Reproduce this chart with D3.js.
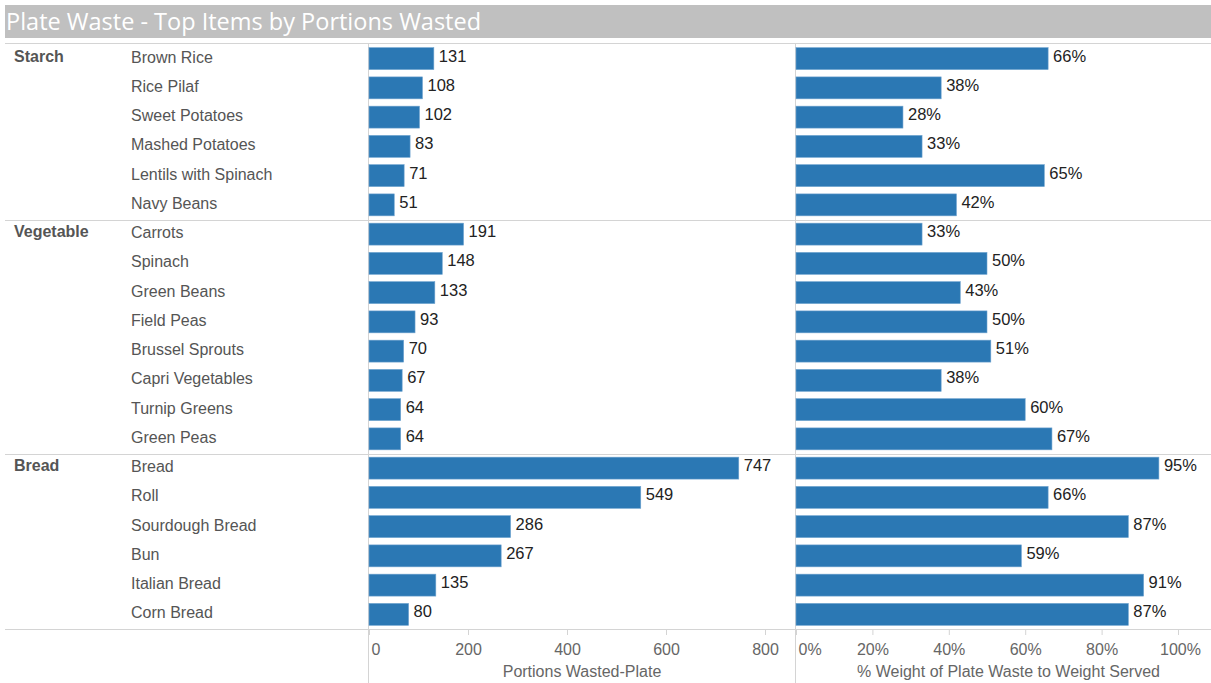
<!DOCTYPE html>
<html>
<head>
<meta charset="utf-8">
<script src="https://cdn.jsdelivr.net/npm/d3@7"></script>
<style>
  body { margin: 0; background: #fff; }
  svg text { font-family: "Liberation Sans", Arial, sans-serif; }
</style>
</head>
<body>
<div id="chart"></div>
<script>
// data
var groups = ["Starch", "Starch", "Starch", "Starch", "Starch", "Starch",
  "Vegetable", "Vegetable", "Vegetable", "Vegetable", "Vegetable", "Vegetable", "Vegetable", "Vegetable",
  "Bread", "Bread", "Bread", "Bread", "Bread", "Bread"];
var items = ["Brown Rice", "Rice Pilaf", "Sweet Potatoes", "Mashed Potatoes", "Lentils with Spinach", "Navy Beans",
  "Carrots", "Spinach", "Green Beans", "Field Peas", "Brussel Sprouts", "Capri Vegetables", "Turnip Greens", "Green Peas",
  "Bread", "Roll", "Sourdough Bread", "Bun", "Italian Bread", "Corn Bread"];
var portions = [131, 108, 102, 83, 71, 51, 191, 148, 133, 93, 70, 67, 64, 64, 747, 549, 286, 267, 135, 80];
var pctWeight = [66, 38, 28, 33, 65, 42, 33, 50, 43, 50, 51, 38, 60, 67, 95, 66, 87, 59, 91, 87];
var portionTicks = [0, 200, 400, 600, 800];
var pctTicks = [0, 20, 40, 60, 80, 100];

var width = 1211, height = 683;
var barColor = "#2b78b4", lineColor = "#d4d4d4";

var svg = d3.select("#chart").append("svg")
  .attr("width", width)
  .attr("height", height);

// title bar
svg.append("rect").attr("x", 5).attr("y", 5).attr("width", width - 5).attr("height", 33)
  .attr("fill", "#c0c0c0");
svg.append("text").attr("x", 6).attr("y", 30)
  .attr("fill", "#fff").style("font-family", "'Open Sans', sans-serif").style("font-size", "23.5px")
  .text("Plate Waste - Top Items by Portions Wasted");

var plotTop = 44, plotBottom = 629;
var y = d3.scaleBand().domain(d3.range(items.length)).range([plotTop, plotBottom]).paddingInner(0.25).paddingOuter(0.125);
var x1 = d3.scaleLinear().domain([0, 800]).range([369, 765]);
var x2 = d3.scaleLinear().domain([0, 100]).range([796, 1178]);

// grid lines
svg.append("line").attr("x1", 5).attr("x2", width).attr("y1", 43.5).attr("y2", 43.5).attr("stroke", lineColor);
svg.append("line").attr("x1", 5).attr("x2", width).attr("y1", plotBottom + 0.5).attr("y2", plotBottom + 0.5).attr("stroke", lineColor);
var step = (plotBottom - plotTop) / items.length;
groups.forEach(function(g, i) {
  if (i > 0 && groups[i - 1] != g) {
    var yy = Math.round(plotTop + step * i) + 0.5;
    svg.append("line").attr("x1", 5).attr("x2", width).attr("y1", yy).attr("y2", yy).attr("stroke", lineColor);
  }
});
[368.5, 795.5].forEach(function(xx) {
  svg.append("line").attr("x1", xx).attr("x2", xx).attr("y1", plotTop).attr("y2", height).attr("stroke", lineColor);
});

// group labels
groups.forEach(function(g, i) {
  if (i == 0 || groups[i - 1] != g) {
    svg.append("text").attr("x", 14).attr("y", y(i) + y.bandwidth() / 2 + 3)
      .attr("fill", "#555").style("font-size", "16px").style("font-weight", "bold")
      .text(g);
  }
});

// item labels
svg.append("g").selectAll("text").data(items).enter().append("text")
  .attr("x", 131)
  .attr("y", function(d, i) { return y(i) + y.bandwidth() / 2 + 4; })
  .attr("fill", "#555").style("font-size", "16px")
  .text(function(d) { return d; });

// bars - portions
svg.append("g").selectAll("rect").data(portions).enter().append("rect")
  .attr("x", x1(0))
  .attr("y", function(d, i) { return y(i); })
  .attr("width", function(d) { return x1(d) - x1(0); })
  .attr("height", y.bandwidth())
  .attr("fill", barColor).attr("stroke", "#6fa3cf").attr("stroke-width", 0.6);
svg.append("g").selectAll("text").data(portions).enter().append("text")
  .attr("x", function(d) { return x1(d) + 5; })
  .attr("y", function(d, i) { return y(i) + y.bandwidth() / 2 + 3; })
  .attr("fill", "#222").style("font-size", "16.5px")
  .text(function(d) { return d; });

// bars - % weight
svg.append("g").selectAll("rect").data(pctWeight).enter().append("rect")
  .attr("x", x2(0))
  .attr("y", function(d, i) { return y(i); })
  .attr("width", function(d) { return x2(d) - x2(0); })
  .attr("height", y.bandwidth())
  .attr("fill", barColor).attr("stroke", "#6fa3cf").attr("stroke-width", 0.6);
svg.append("g").selectAll("text").data(pctWeight).enter().append("text")
  .attr("x", function(d) { return x2(d) + 5; })
  .attr("y", function(d, i) { return y(i) + y.bandwidth() / 2 + 3; })
  .attr("fill", "#222").style("font-size", "16.5px")
  .text(function(d) { return d + "%"; });

// axes
var ax1 = svg.append("g").attr("transform", "translate(0," + (plotBottom + 1) + ")")
  .call(d3.axisBottom(x1).tickValues(portionTicks).tickSize(5).tickPadding(9));
var ax2 = svg.append("g").attr("transform", "translate(0," + (plotBottom + 1) + ")")
  .call(d3.axisBottom(x2).tickValues(pctTicks).tickSize(5).tickPadding(9)
    .tickFormat(function(d) { return d + "%"; }));
[ax1, ax2].forEach(function(ax) {
  ax.select(".domain").remove();
  ax.selectAll(".tick line").attr("stroke", lineColor);
  ax.selectAll(".tick text").attr("fill", "#666").style("font-size", "16px")
    .style("font-family", "'Liberation Sans', Arial, sans-serif");
});
// first tick labels are left aligned like the original
ax1.selectAll(".tick text").filter(function(d) { return d == 0; }).attr("text-anchor", "start").attr("x", 2);
ax2.selectAll(".tick text").filter(function(d) { return d == 0; }).attr("text-anchor", "start").attr("x", 2);
ax2.selectAll(".tick text").filter(function(d) { return d == 100; }).attr("x", 2);

svg.append("text").attr("x", (369 + 795) / 2).attr("y", 677).attr("text-anchor", "middle")
  .attr("fill", "#666").style("font-size", "16px").text("Portions Wasted-Plate");
svg.append("text").attr("x", (796 + 1211) / 2 + 5).attr("y", 677).attr("text-anchor", "middle")
  .attr("fill", "#666").style("font-size", "16px").text("% Weight of Plate Waste to Weight Served");
</script>
</body>
</html>
